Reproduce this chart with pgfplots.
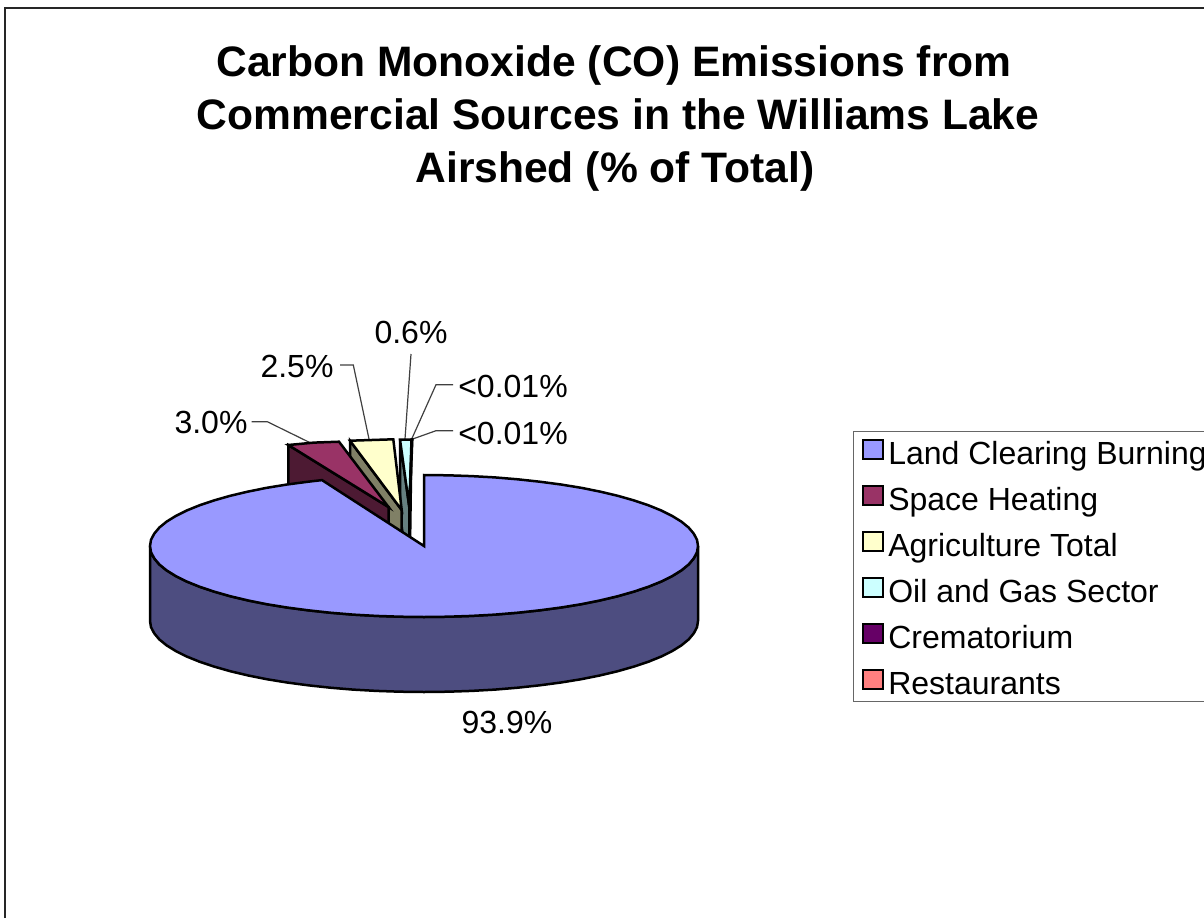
\documentclass[border=0pt]{standalone}
\usepackage{pgfplots}
\pgfplotsset{compat=1.18}
\usepackage{fontspec}
\setmainfont{Liberation Sans}
\definecolor{cBlue}{HTML}{9999FF}\definecolor{cBlueS}{HTML}{4D4D80}
\definecolor{cMar}{HTML}{993366}\definecolor{cMarS}{HTML}{4D1A33}
\definecolor{cYel}{HTML}{FFFFCC}\definecolor{cYelS}{HTML}{808066}
\definecolor{cCya}{HTML}{CCFFFF}\definecolor{cCyaS}{HTML}{668080}
\definecolor{cCre}{HTML}{660066}\definecolor{cRes}{HTML}{FF8080}
\newcommand{\swatch}[1]{\addlegendimage{legend image code/.code={\path[draw=none] (0pt,0pt)--(24pt,0pt);\draw[fill=#1,draw=black,line width=1.8pt] (0pt,-8pt) rectangle (20pt,11pt);}}}
\begin{document}
\begin{tikzpicture}[x=1pt,y=1pt]
\clip (0,0) rectangle (1204,918);
\begin{axis}[at={(0pt,0pt)},anchor=south west,scale only axis,width=1204pt,height=918pt,
  xmin=0,xmax=1204,ymin=0,ymax=918,y dir=reverse,hide axis,clip=false,
  every axis plot/.append style={line width=2.5pt,line join=miter,draw=black},
  legend cell align=left,
  legend style={at={(853.3/1204,{(918-430.7)/918})},anchor=north west,draw=black!60,line width=1.2pt,
    font=\fontsize{32}{36}\selectfont,inner xsep=8pt,inner ysep=4pt,
    row sep=14pt,nodes={inner sep=1.5pt,text height=28pt,text depth=1pt}},
]
\swatch{cBlue}\addlegendentry{Land Clearing Burning}
\swatch{cMar}\addlegendentry{Space Heating}
\swatch{cYel}\addlegendentry{Agriculture Total}
\swatch{cCya}\addlegendentry{Oil and Gas Sector}
\swatch{cCre}\addlegendentry{Crematorium}
\swatch{cRes}\addlegendentry{Restaurants}
% frame
\addplot[line width=1.6pt,draw=black!85] coordinates {(5,918)(5,8)(1204,8)};
% leader lines
\addplot[line width=1.2pt,draw=black!75] coordinates {(251.7,421.7)(267.3,421.7)(309.3,442.3)};
\addplot[line width=1.2pt,draw=black!75] coordinates {(340,365)(353.3,365)(369,439)};
\addplot[line width=1.2pt,draw=black!75] coordinates {(411,354)(405,439)};
\addplot[line width=1.2pt,draw=black!75] coordinates {(453,384.7)(436,384.7)(411.7,439)};
\addplot[line width=1.2pt,draw=black!75] coordinates {(453,430.7)(436,430.7)(412.7,439)};
% Oil and gas slice
\addplot[fill=cCyaS] coordinates {(400,439.5)(409.3,507)(409.3,582)(400,514.5)} -- cycle;
\addplot[fill=cCya] coordinates {(400,439.5)(411.5,439.5)(409.3,507)} -- cycle;
% Crematorium / Restaurants: hair-thin slices
\addplot[fill=cCre] coordinates {(411.5,439.5)(412,439.5)(409.5,507)(409.5,582)} -- cycle;
\addplot[fill=cRes] coordinates {(412,439.5)(412.3,439.5)(409.7,507)} -- cycle;
% Agriculture slice
\addplot[fill=cYelS] coordinates {(350,440.7)(401.7,510)(401.7,585)(350,515.7)} -- cycle;
\addplot[fill=cYel] coordinates {(350,440.7)(393.3,439.3)(401.7,510)} -- cycle;
% Space heating slice
\addplot[fill=cMarS] coordinates {(288.3,445)(388.5,507)(388.5,582)(288.3,520)} -- cycle;
\addplot[fill=cMar] coordinates {(288.3,445)(314,442.6)(339,441.7)(388.5,507)} -- cycle;
% Land clearing burning: wall
\addplot[fill=cBlueS] coordinates {(698,546)(697.0,552.2)(693.8,558.3)(688.7,564.4)(681.5,570.3)(672.3,576.0)(661.3,581.5)(648.5,586.7)(633.9,591.6)(617.8,596.2)(600.1,600.4)(581.2,604.2)(561.0,607.5)(539.8,610.3)(517.7,612.7)(494.9,614.6)(471.6,615.9)(447.9,616.7)(424,617)(400.1,616.7)(376.4,615.9)(353.1,614.6)(330.3,612.7)(308.2,610.3)(287.0,607.5)(266.8,604.2)(247.9,600.4)(230.2,596.2)(214.1,591.6)(199.5,586.7)(186.7,581.5)(175.7,576.0)(166.5,570.3)(159.3,564.4)(154.2,558.3)(151.0,552.2)(150,546)
(150,621)(151.0,627.2)(154.2,633.3)(159.3,639.4)(166.5,645.3)(175.7,651.0)(186.7,656.5)(199.5,661.7)(214.1,666.6)(230.2,671.2)(247.9,675.4)(266.8,679.2)(287.0,682.5)(308.2,685.3)(330.3,687.7)(353.1,689.6)(376.4,690.9)(400.1,691.7)(424,692)(447.9,691.7)(471.6,690.9)(494.9,689.6)(517.7,687.7)(539.8,685.3)(561.0,682.5)(581.2,679.2)(600.1,675.4)(617.8,671.2)(633.9,666.6)(648.5,661.7)(661.3,656.5)(672.3,651.0)(681.5,645.3)(688.7,639.4)(693.8,633.3)(697.0,627.2)(698,621)} -- cycle;
% top
\addplot[fill=cBlue] coordinates {(424,546)(424,475)(447.9,475.3)(471.6,476.1)(494.9,477.4)(517.7,479.3)(539.8,481.7)(561.0,484.5)(581.2,487.8)(600.1,491.6)(617.8,495.8)(633.9,500.4)(648.5,505.3)(661.3,510.5)(672.3,516.0)(681.5,521.7)(688.7,527.6)(693.8,533.7)(697.0,539.8)(698,546)(697.0,552.2)(693.8,558.3)(688.7,564.4)(681.5,570.3)(672.3,576.0)(661.3,581.5)(648.5,586.7)(633.9,591.6)(617.8,596.2)(600.1,600.4)(581.2,604.2)(561.0,607.5)(539.8,610.3)(517.7,612.7)(494.9,614.6)(471.6,615.9)(447.9,616.7)(424,617)(400.1,616.7)(376.4,615.9)(353.1,614.6)(330.3,612.7)(308.2,610.3)(287.0,607.5)(266.8,604.2)(247.9,600.4)(230.2,596.2)(214.1,591.6)(199.5,586.7)(186.7,581.5)(175.7,576.0)(166.5,570.3)(159.3,564.4)(154.2,558.3)(151.0,552.2)(150,546)(151.0,539.8)(154.2,533.7)(159.3,527.6)(166.5,521.7)(175.7,516.0)(186.7,510.5)(199.5,505.3)(214.1,500.4)(230.2,495.8)(247.9,491.6)(266.8,487.8)(287.0,484.5)(308.2,481.7)(322,480.1)} -- cycle;
% labels
\tikzset{lab/.style={font=\fontsize{32}{36}\selectfont,inner sep=0pt,text=black}}
\node[lab] at (axis cs:507,722) {93.9\%};
\node[lab] at (axis cs:411,332) {0.6\%};
\node[lab] at (axis cs:297,366) {2.5\%};
\node[lab] at (axis cs:211,422) {3.0\%};
\node[lab] at (axis cs:513,386) {<0.01\%};
\node[lab] at (axis cs:513,433) {<0.01\%};
\node[font=\fontsize{42.6}{53}\selectfont\bfseries,align=center,inner sep=0pt] at (axis cs:618,118) {Carbon Monoxide (CO) Emissions from\hspace*{8pt}\\Commercial Sources in the Williams Lake\\Airshed (\% of Total)\hspace*{6pt}};
\end{axis}
\end{tikzpicture}
\end{document}
